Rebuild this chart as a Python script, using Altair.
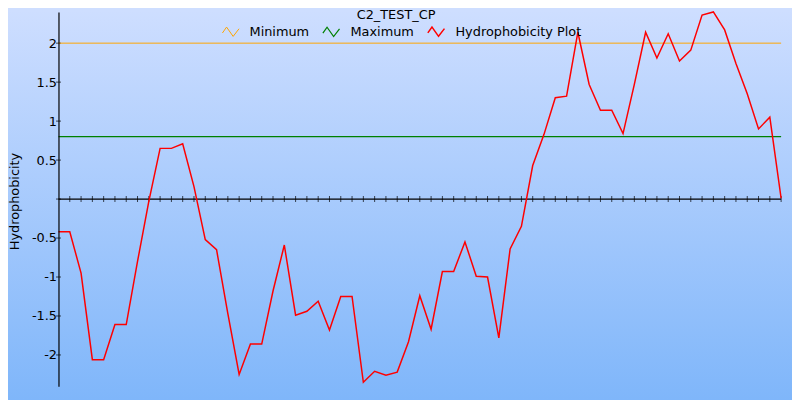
import altair as alt
import pandas as pd

# ---- data ----
positions = list(range(65))
hydrophobicity = [
    -0.42, -0.42, -0.95, -2.06, -2.06, -1.61, -1.61, -0.80, -0.03, 0.65,
    0.65, 0.71, 0.16, -0.52, -0.65, -1.47, -2.25, -1.86, -1.86, -1.18,
    -0.59, -1.49, -1.44, -1.31, -1.68, -1.25, -1.25, -2.35, -2.21, -2.26,
    -2.22, -1.83, -1.24, -1.67, -0.93, -0.93, -0.55, -0.99, -1.00, -1.78,
    -0.64, -0.35, 0.43, 0.83, 1.30, 1.32, 2.14, 1.47, 1.14, 1.14,
    0.84, 1.47, 2.14, 1.81, 2.12, 1.77, 1.91, 2.36, 2.40, 2.17,
    1.74, 1.35, 0.90, 1.05, 0.01,
]
minimum_level = 2.0
maximum_level = 0.8
series_names = ["Minimum", "Maximum", "Hydrophobicity Plot"]
series_colors = ["#FFA500", "#008000", "#FF0000"]
series_widths = [1, 1.5, 1]
y_tick_values = [-2, -1.5, -1, -0.5, 0.5, 1, 1.5, 2]
y_tick_marks = [-2, -1.5, -1, -0.5, 0, 0.5, 1, 1.5, 2]
x_tick_positions = list(range(1, 65))
chart_title = "C2_TEST_CP"
y_title = "Hydrophobicity"

FONT = "DejaVu Sans"
W, H = 730, 378

rows = []
for p in (positions[0], positions[-1]):
    rows.append({"pos": p, "value": minimum_level, "series": "Minimum"})
for p in (positions[0], positions[-1]):
    rows.append({"pos": p, "value": maximum_level, "series": "Maximum"})
for p, v in zip(positions, hydrophobicity):
    rows.append({"pos": p, "value": v, "series": "Hydrophobicity Plot"})
lines_df = pd.DataFrame(rows)

x_scale = alt.Scale(domain=[0, 64], nice=False, zero=False)
y_scale = alt.Scale(domain=[-2.4, 2.4], nice=False, zero=False)
y_axis = alt.Axis(
    values=y_tick_values, grid=False, ticks=False, tickSize=0, labelPadding=2,
    domainColor="black", domainWidth=1.2, labelColor="black", labelFont=FONT,
    labelFontSize=13, labelExpr="toString(datum.value)", title=y_title,
    titleFont=FONT, titleFontSize=13, titleFontWeight="normal", titleColor="black",
    titleAngle=270, titleX=-44, titleY=191, titleAlign="center", titleBaseline="middle",
    zindex=1,
)

one = pd.DataFrame({"k": [0]})

background = alt.Chart(one).mark_rect(
    fill=alt.Gradient(
        gradient="linear", x1=0, y1=0, x2=0, y2=1,
        stops=[alt.GradientStop(color="#CEDEFF", offset=0),
               alt.GradientStop(color="#7FB6FA", offset=1)],
    ),
    clip=False,
).encode(x=alt.value(-51), x2=alt.value(W + 11), y=alt.value(-2), y2=alt.value(H + 14))

zero_rule = alt.Chart(one).mark_rule(color="black", strokeWidth=1.3).encode(
    y=alt.Y(datum=0, scale=y_scale, axis=y_axis)
)

x_ticks = alt.Chart(pd.DataFrame({"pos": x_tick_positions})).mark_tick(
    orient="vertical", size=6, thickness=1, color="black"
).encode(
    x=alt.X("pos:Q", scale=x_scale, axis=None),
    y=alt.Y(datum=0, scale=y_scale, axis=y_axis),
)

y_ticks = alt.Chart(pd.DataFrame({"v": y_tick_marks})).mark_tick(
    orient="horizontal", size=5, thickness=1, color="black"
).encode(
    x=alt.X(datum=0, scale=x_scale, axis=None),
    y=alt.Y("v:Q", scale=y_scale, axis=y_axis),
)

legend_symbol = "M-1,0.15L-0.5,-0.56L0.29,0.56L1,-0.36"
lines = alt.Chart(lines_df).mark_line(interpolate="linear").encode(
    x=alt.X("pos:Q", scale=x_scale, axis=None),
    y=alt.Y("value:Q", scale=y_scale, axis=y_axis),
    color=alt.Color(
        "series:N",
        scale=alt.Scale(domain=series_names, range=series_colors),
        sort=series_names,
        legend=alt.Legend(
            title=None, orient="none", legendX=165, legendY=10, direction="horizontal",
            symbolType=legend_symbol, symbolSize=282, symbolStrokeWidth=1,
            symbolFillColor="transparent", labelFont=FONT, labelFontSize=13,
            labelColor="black", labelOffset=10, columnPadding=10, padding=0,
        ),
    ),
    strokeWidth=alt.StrokeWidth(
        "series:N", scale=alt.Scale(domain=series_names, range=series_widths), legend=None
    ),
    detail="series:N",
)

title_text = alt.Chart(pd.DataFrame({"t": [chart_title]})).mark_text(
    font=FONT, fontSize=13, color="black", baseline="top", align="center"
).encode(text="t:N", x=alt.value(341), y=alt.value(-3))

chart = alt.layer(background, zero_rule, x_ticks, y_ticks, lines, title_text).properties(
    width=W, height=H,
    autosize=alt.AutoSizeParams(type="none"),
    padding={"left": 51, "top": 2, "right": 11, "bottom": 12},
    background="#CEDEFF",
).configure_view(strokeWidth=0)

chart.save("out.html", embed_options={"renderer": "svg", "actions": False})
